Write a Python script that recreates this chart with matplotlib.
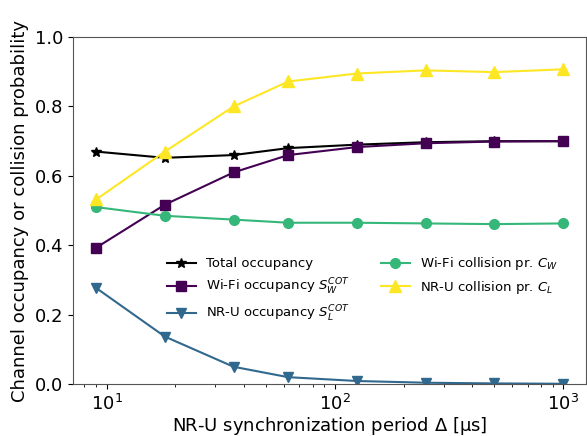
import numpy as np
import matplotlib
matplotlib.use("Agg")
import matplotlib.pyplot as plt

# synchronization periods [us]
delta = [9, 18, 36, 62.5, 125, 250, 500, 1000]

total_occ = [0.670, 0.652, 0.660, 0.680, 0.690, 0.697, 0.700, 0.700]
wifi_occ = [0.393, 0.517, 0.610, 0.660, 0.683, 0.694, 0.699, 0.700]
nru_occ = [0.277, 0.137, 0.050, 0.020, 0.009, 0.004, 0.002, 0.001]
wifi_coll = [0.510, 0.485, 0.474, 0.465, 0.465, 0.463, 0.461, 0.463]
nru_coll = [0.532, 0.670, 0.800, 0.872, 0.895, 0.904, 0.899, 0.907]

fig = plt.figure(figsize=(5.87, 4.36), dpi=100)
ax = fig.add_axes([0.124, 0.119, 0.875, 0.796])

ax.plot(delta, total_occ, color="black", marker="*", markersize=7, label="Total occupancy")
ax.plot(delta, wifi_occ, color="#440154", marker="s", markersize=7,
        label=r"Wi-Fi occupancy $S_W^{COT}$")
ax.plot(delta, nru_occ, color="#31688e", marker="v", markersize=7,
        label=r"NR-U occupancy $S_L^{COT}$")
ax.plot(delta, wifi_coll, color="#35b779", marker="o", markersize=7,
        label=r"Wi-Fi collision pr. $C_W$")
ax.plot(delta, nru_coll, color="#fde725", marker="^", markersize=8,
        label=r"NR-U collision pr. $C_L$")

ax.set_xscale("log")
ax.set_ylim(0, 1.0)
ax.set_xlabel(r"NR-U synchronization period $\Delta$ [$\mathrm{\mu}$s]", fontsize=13,
              labelpad=1)
ax.set_ylabel("Channel occupancy or collision probability", fontsize=13)
ax.tick_params(labelsize=13)
for s in ax.spines.values():
    s.set_color("#555555")

ax.legend(ncol=2, frameon=False, fontsize=9.5, loc="lower left",
          bbox_to_anchor=(0.16, 0.14), columnspacing=2.3, handlelength=2.2)

fig.savefig("out.png", dpi=100)
